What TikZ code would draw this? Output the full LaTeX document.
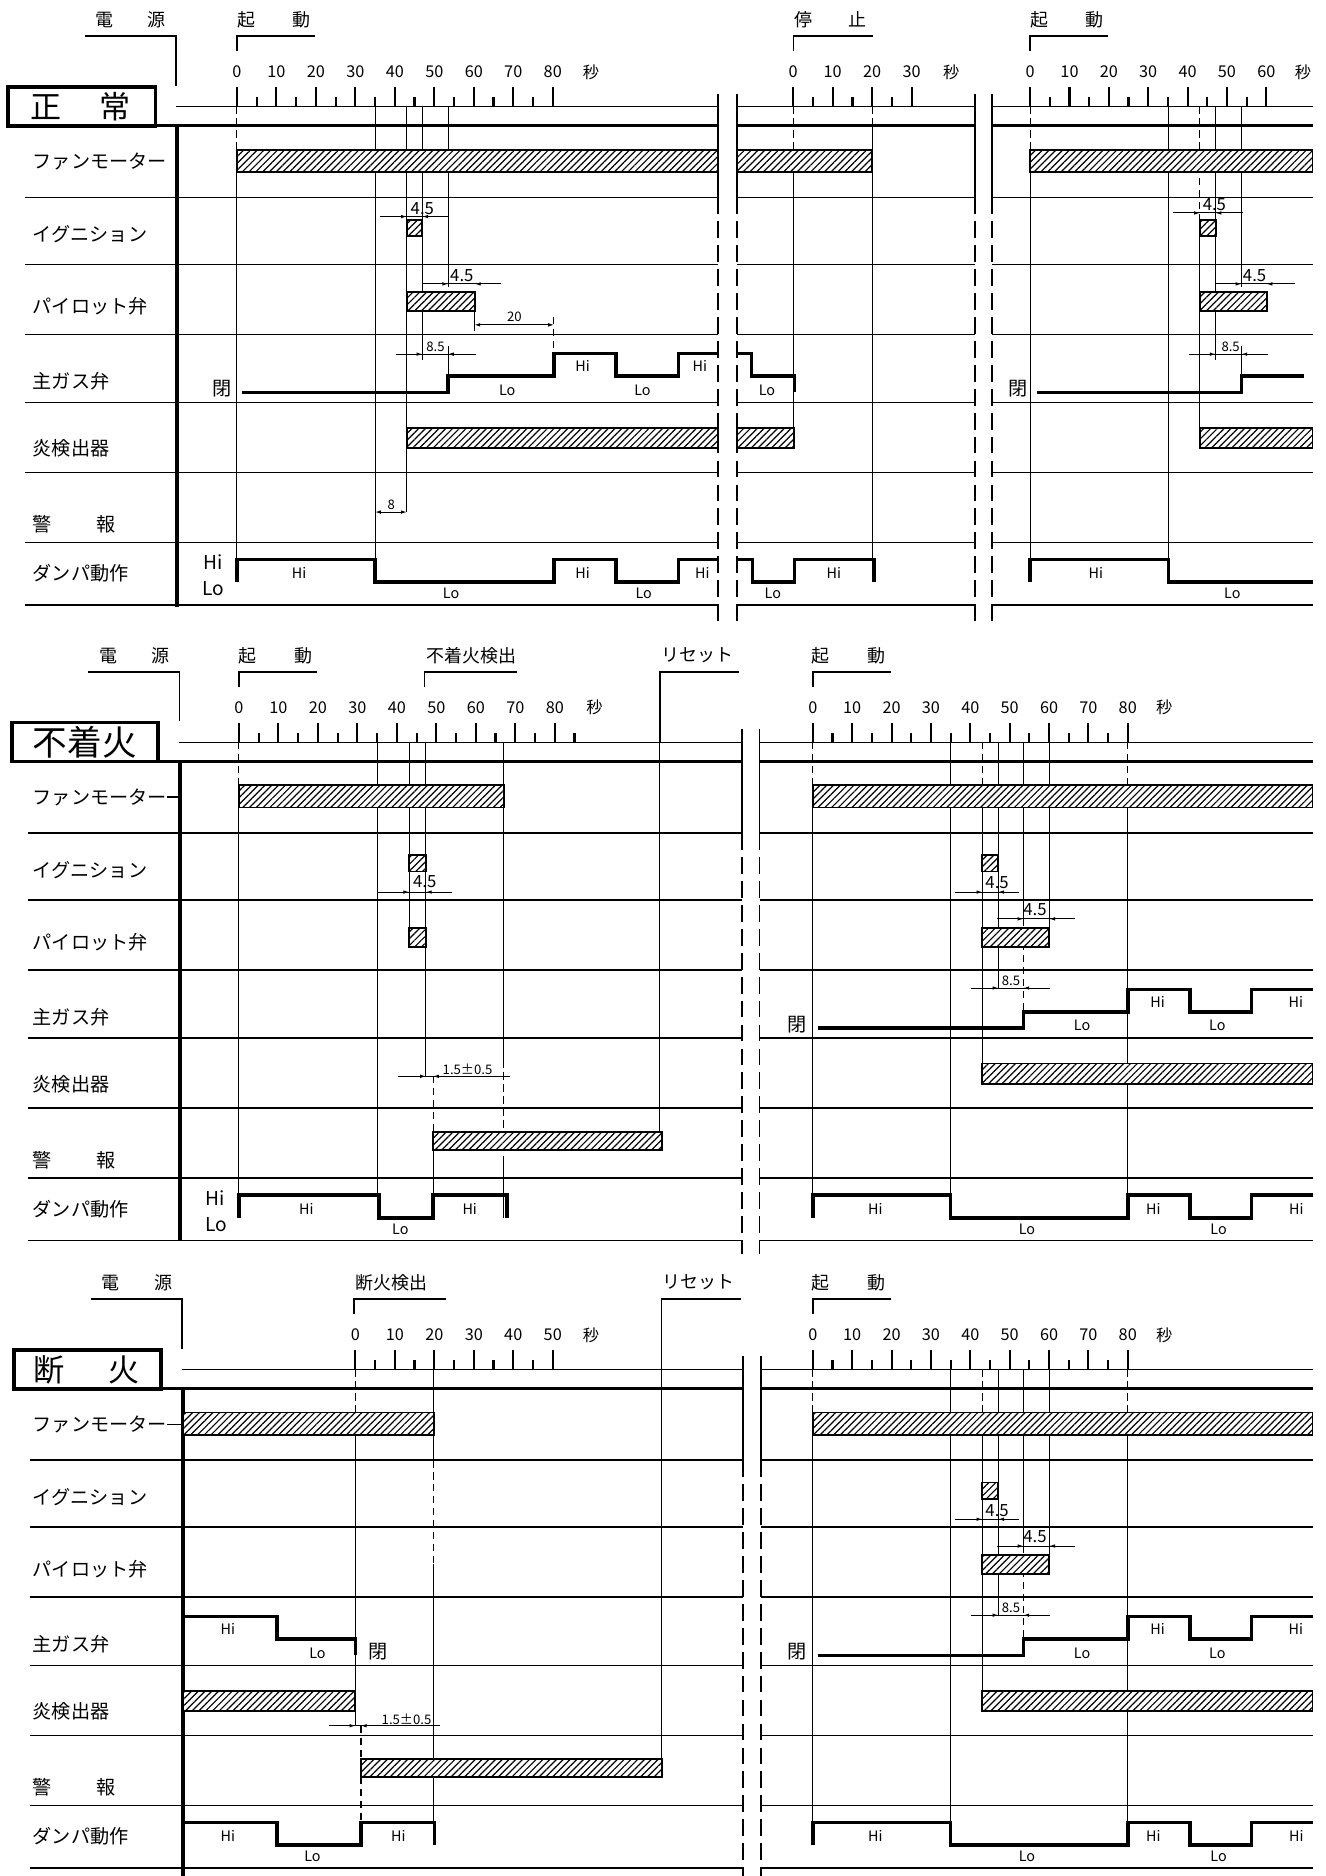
\documentclass[tikz,border=0pt]{standalone}
\usepackage{fontspec}
\setmainfont{Noto Sans CJK JP}
\usepackage{tikz}
\usetikzlibrary{arrows.meta,patterns.meta}
\tikzset{
  framebox/.style={draw, line width=1.6pt},
  heavyline/.style={line width=1.2pt},
  axisthick/.style={line width=1.4pt},
  rowline/.style={line width=0.75pt},
  axisline/.style={line width=0.6pt},
  tickmark/.style={line width=0.9pt},
  refline/.style={line width=0.45pt},
  refdash/.style={line width=0.45pt, dash pattern=on 3pt off 2pt},
  breakline/.style={line width=0.6pt},
  breakdash/.style={line width=0.6pt, dash pattern=on 7pt off 3pt},
  wave/.style={line width=1.5pt, line join=miter},
  hatchbar/.style={draw, line width=0.8pt, fill=white,
    postaction={pattern={Lines[angle=45,distance=2pt,line width=0.5pt]}}},
  dimline/.style={line width=0.4pt},
  dimtip/.style={line width=0.4pt, -{Latex[length=2.4pt,width=1.5pt]}},
  dimboth/.style={line width=0.4pt,
    {Latex[length=2.4pt,width=1.5pt]}-{Latex[length=2.4pt,width=1.5pt]}},
  rowlabel/.style={anchor=west, inner sep=0pt, font=\fontsize{8}{8}\selectfont},
  toplabel/.style={inner sep=0pt, font=\fontsize{7.5}{8}\selectfont},
  scalenum/.style={inner sep=0pt, font=\fontsize{6.8}{7}\selectfont},
  dimnum/.style={inner sep=0pt, font=\fontsize{7}{7}\selectfont},
  smallnum/.style={inner sep=0pt, font=\fontsize{5.5}{6}\selectfont},
  levellabel/.style={inner sep=0pt, font=\fontsize{6}{6}\selectfont},
  axislevel/.style={inner sep=0pt, font=\fontsize{8}{8}\selectfont},
  casetitle/.style={inner sep=0pt, font=\fontsize{13}{13}\selectfont}
}

% time scale: prefix, t0, px per second, last major, last minor, x of the unit
\newcommand{\timeaxis}[6]{%
  \foreach \t in {0,10,...,#4} {
    \draw[tickmark] ({#2+#3*\t},-16) -- ++(0,-16);
    \node[scalenum] (#1-n\t) at ({#2+#3*\t},-44.8) {\t};
  }
  \foreach \t in {5,15,...,#5}
    \draw[tickmark] ({#2+#3*\t},-16) -- ++(0,-8);
  \node[scalenum] (#1-sec) at (#6,-44.8) {秒};
}

% row names, same in every case
\newcommand{\rownames}[1]{%
  \node[rowlabel] (#1-fan) at (27,30) {ファンモーター};
  \node[rowlabel] (#1-ign) at (27,90.5) {イグニション};
  \node[rowlabel] (#1-pilot) at (27,151) {パイロット弁};
  \node[rowlabel] (#1-gas) at (27,213.5) {主ガス弁};
  \node[rowlabel] (#1-flame) at (27,270) {炎検出器};
  \node[rowlabel] (#1-alarm) at (27,333) {警\hspace{2.35em}報};
  \node[rowlabel] (#1-damper) at (27,374) {ダンパ動作};
}

% right half of the 不着火 and 断火 cases (restart)
\newcommand{\restartpart}[1]{%
  \node[toplabel] (#1-start) at (709,-88.5) {起\hspace{2.1em}動};
  \draw[axisline] (679.4,-62.5) -- (679.4,-74.8) -- (744.3,-74.8);
  \timeaxis{#1}{679.4}{3.29}{80}{75}{973}
  % reference lines
  \draw[refdash] (679.4,-16) -- (679.4,20);
  \draw[refline] (679.4,38.5) -- (679.4,362.5);
  \draw[refline] (794.6,-16) -- (794.6,381.5);
  \draw[refdash] (821,-16) -- (821,20);
  \draw[refline] (821,20) -- (821,252.5);
  \draw[refline] (834.4,-16) -- (834.4,189.4);
  \draw[refline] (855.4,-16) -- (855.4,131.6);
  \draw[refdash] (855.4,131.6) -- (855.4,209.5);
  \draw[refline] (877,-16) -- (877,139);
  \draw[refdash] (942.6,-16) -- (942.6,20);
  \draw[refline] (942.6,38.5) -- (942.6,362.5);
  % bars
  \draw[hatchbar] (679.4,20) rectangle (1097,38.5);
  \draw[hatchbar] (821,78.5) rectangle (834.4,92);
  \draw[hatchbar] (821,139) rectangle (877,155);
  \draw[hatchbar] (821,252.5) rectangle (1097,269.5);
  % main gas valve
  \node[axislevel] (#1-shut) at (666.6,220) {閉};
  \draw[wave] (683.3,223) -- (855.4,223) -- (855.4,209.5) -- (942.6,209.5) -- (942.6,190.5)
    -- (994.5,190.5) -- (994.5,209.5) -- (1046,209.5) -- (1046,190.5) -- (1097,190.5);
  \node[levellabel] (#1-g1) at (904.4,221) {Lo};
  \node[levellabel] (#1-g2) at (967.6,201) {Hi};
  \node[levellabel] (#1-g3) at (1017.5,221) {Lo};
  \node[levellabel] (#1-g4) at (1083,201) {Hi};
  % damper
  \draw[wave] (679.4,381.5) -- (679.4,362.5) -- (794.6,362.5) -- (794.6,381.5) -- (942.6,381.5)
    -- (942.6,362.5) -- (994.5,362.5) -- (994.5,381.5) -- (1046,381.5) -- (1046,362.5) -- (1097,362.5);
  \node[levellabel] (#1-d1) at (731.6,374) {Hi};
  \node[levellabel] (#1-d2) at (858.4,391) {Lo};
  \node[levellabel] (#1-d3) at (964,374) {Hi};
  \node[levellabel] (#1-d4) at (1018.5,391) {Lo};
  \node[levellabel] (#1-d5) at (1083.5,374) {Hi};
  % dimensions
  \draw[dimline] (798.4,109.2) -- (851.8,109.2);
  \draw[dimtip] (814,109.2) -- (821,109.2);
  \draw[dimtip] (841.4,109.2) -- (834.4,109.2);
  \node[dimnum] (#1-ig) at (833.4,101.6) {4.5};
  \draw[dimline] (833.4,131.6) -- (898.3,131.6);
  \draw[dimtip] (848.4,131.6) -- (855.4,131.6);
  \draw[dimtip] (884,131.6) -- (877,131.6);
  \node[dimnum] (#1-pl) at (865,124) {4.5};
  \draw[dimline] (811.7,189.4) -- (877.7,189.4);
  \draw[dimtip] (827.4,189.4) -- (834.4,189.4);
  \draw[dimtip] (862.4,189.4) -- (855.4,189.4);
  \node[smallnum] (#1-gs) at (845,183.6) {8.5};
}

\begin{document}
\begin{tikzpicture}[x=0.5pt,y=-0.5pt]
\fill[white] (0,0) rectangle (1108,1568);
\useasboundingbox (0,0) rectangle (1108,1568);

% ================= 正常 =================
\begin{scope}[shift={(0,105)}]
\node[casetitle] (p1-case) at (67.5,-16) {正\hspace{1.2em}常};
\draw[framebox] (7,-32.5) rectangle (130,0);
\node[toplabel] (p1-power) at (109.4,-88.5) {電\hspace{1.9em}源};
\node[toplabel] (p1-start) at (229,-88.5) {起\hspace{2.1em}動};
\node[toplabel] (p1-stop) at (694,-88.5) {停\hspace{2em}止};
\node[toplabel] (p1-restart) at (891.7,-88.5) {起\hspace{2.1em}動};
\draw[axisline] (71,-74.8) -- (147,-74.8) -- (147,-33.5);
\draw[axisline] (198,-62.5) -- (198,-74.8) -- (263,-74.8);
\draw[axisline] (663,-62.5) -- (663,-74.8) -- (729.4,-74.8);
\draw[axisline] (861,-62.5) -- (861,-74.8) -- (925.8,-74.8);
\timeaxis{p1a}{198}{3.3}{80}{75}{494}
\timeaxis{p1b}{663}{3.3}{30}{25}{795}
\timeaxis{p1c}{861}{3.29}{60}{55}{1089}
\foreach \a/\b in {147/600, 616/815, 829/1097} \draw[axisline] (\a,-16) -- (\b,-16);
\foreach \a/\b in {7/600, 616/815, 829/1097} \draw[heavyline] (\a,0) -- (\b,0);
\foreach \r in {60,116,174.5,231.5,290,348.5,400.5}
  \foreach \a/\b in {21/600, 616/815, 829/1097} \draw[rowline] (\a,\r) -- (\b,\r);
\draw[axisthick] (148,0) -- (148,402);
\foreach \x in {600,616,815,829} {
  \draw[breakline] (\x,-26.5) -- (\x,60);
  \draw[breakdash] (\x,60) -- (\x,415);
}
\rownames{p1}
\node[axislevel] (p1-hi) at (178,365) {Hi};
\node[axislevel] (p1-lo) at (178,387) {Lo};
% reference lines
\draw[refdash] (198,-16) -- (198,20);
\draw[refline] (198,38.5) -- (198,362.5);
\draw[refline] (313.5,-16) -- (313.5,381.5);
\draw[refline] (340,-16) -- (340,323);
\draw[refline] (353,-16) -- (353,196);
\draw[refline] (374.5,-16) -- (374.5,135);
\draw[refline] (374.5,184) -- (374.5,209.5);
\draw[refline] (396.5,155) -- (396.5,172);
\draw[refdash] (463,160) -- (463,190.5);
\draw[refdash] (663,-16) -- (663,20);
\draw[refline] (663,38.5) -- (663,269.5);
\draw[refdash] (729,-16) -- (729,0);
\draw[refline] (729,0) -- (729,381.5);
\draw[refdash] (861,-16) -- (861,20);
\draw[refline] (861,38.5) -- (861,362.5);
\draw[refline] (976.5,-16) -- (976.5,381.5);
\draw[refdash] (1002.9,-16) -- (1002.9,78.5);
\draw[refline] (1002.9,78.5) -- (1002.9,252.5);
\draw[refline] (1016,-16) -- (1016,196);
\draw[refline] (1037.6,-16) -- (1037.6,135);
\draw[refline] (1037.6,184) -- (1037.6,209.5);
% fan motor
\draw[hatchbar] (198,20) rectangle (600,38.5);
\draw[hatchbar] (616,20) rectangle (729,38.5);
\draw[hatchbar] (861,20) rectangle (1097,38.5);
% ignition and pilot valve
\draw[hatchbar] (340,78.5) rectangle (353,92);
\draw[hatchbar] (340,139) rectangle (397,155);
\draw[hatchbar] (1002.9,78.5) rectangle (1016,92);
\draw[hatchbar] (1002.9,139) rectangle (1058.6,155);
% flame detector
\draw[hatchbar] (340,252.5) rectangle (600,269.5);
\draw[hatchbar] (616,252.5) rectangle (664,269.5);
\draw[hatchbar] (1002.9,252.5) rectangle (1097,269.5);
% main gas valve
\node[axislevel] (p1-shut) at (186,220) {閉};
\draw[wave] (202,223) -- (374.5,223) -- (374.5,209.5) -- (463,209.5) -- (463,190.5) -- (515,190.5)
  -- (515,209.5) -- (567,209.5) -- (567,190.5) -- (600,190.5);
\draw[wave] (616,190.5) -- (628,190.5) -- (628,209.5) -- (664,209.5) -- (664,223);
\node[axislevel] (p1-shut2) at (851,220) {閉};
\draw[wave] (866.5,223) -- (1037.6,223) -- (1037.6,209.5) -- (1090,209.5);
\node[levellabel] (p1-g1) at (424,221) {Lo};
\node[levellabel] (p1-g2) at (487,201) {Hi};
\node[levellabel] (p1-g3) at (537,221) {Lo};
\node[levellabel] (p1-g4) at (585,201) {Hi};
\node[levellabel] (p1-g5) at (641,221) {Lo};
% damper
\draw[wave] (198,381.5) -- (198,362.5) -- (313.5,362.5) -- (313.5,381.5) -- (463,381.5) -- (463,362.5)
  -- (515,362.5) -- (515,381.5) -- (567,381.5) -- (567,362.5) -- (600,362.5);
\draw[wave] (616,362.5) -- (629,362.5) -- (629,381.5) -- (664,381.5) -- (664,362.5) -- (730.6,362.5)
  -- (730.6,381.5);
\draw[wave] (861,381.5) -- (861,362.5) -- (976.5,362.5) -- (976.5,381.5) -- (1097,381.5);
\node[levellabel] (p1-d1) at (250,374) {Hi};
\node[levellabel] (p1-d2) at (377,391) {Lo};
\node[levellabel] (p1-d3) at (487,374) {Hi};
\node[levellabel] (p1-d4) at (538,391) {Lo};
\node[levellabel] (p1-d5) at (587,374) {Hi};
\node[levellabel] (p1-d6) at (646,391) {Lo};
\node[levellabel] (p1-d7) at (697,374) {Hi};
\node[levellabel] (p1-d8) at (916,374) {Hi};
\node[levellabel] (p1-d9) at (1030,391) {Lo};
% dimensions
\draw[dimline] (317.5,76) -- (375,76);
\draw[dimtip] (333,76) -- (340,76);
\draw[dimtip] (360,76) -- (353,76);
\node[dimnum] (p1-ig) at (353,69) {4.5};
\draw[dimline] (353,132.3) -- (419,132.3);
\draw[dimtip] (367.5,132.3) -- (374.5,132.3);
\draw[dimtip] (404,132.3) -- (397,132.3);
\node[dimnum] (p1-pl) at (386,125.6) {4.5};
\draw[dimboth] (396.5,166.5) -- (463,166.5);
\node[smallnum] (p1-purge) at (430,160) {20};
\draw[dimline] (330.6,191) -- (397.7,191);
\draw[dimtip] (346,191) -- (353,191);
\draw[dimtip] (381.5,191) -- (374.5,191);
\node[smallnum] (p1-gs) at (364,185) {8.5};
\draw[dimboth] (313.5,323) -- (340,323);
\node[smallnum] (p1-al) at (327,317) {8};
\draw[dimline] (980,73) -- (1038.6,73);
\draw[dimtip] (995.9,73) -- (1002.9,73);
\draw[dimtip] (1023,73) -- (1016,73);
\node[dimnum] (p1-ig2) at (1015,66) {4.5};
\draw[dimline] (1016,132.3) -- (1082,132.3);
\draw[dimtip] (1030.6,132.3) -- (1037.6,132.3);
\draw[dimtip] (1065.6,132.3) -- (1058.6,132.3);
\node[dimnum] (p1-pl2) at (1048.6,125.6) {4.5};
\draw[dimline] (994,191) -- (1060,191);
\draw[dimtip] (1009,191) -- (1016,191);
\draw[dimtip] (1044.6,191) -- (1037.6,191);
\node[smallnum] (p1-gs2) at (1028.6,185) {8.5};
\end{scope}

% ================= 不着火 =================
\begin{scope}[shift={(0,636.4)}]
\node[casetitle, font=\fontsize{14.5}{14.5}\selectfont] (p2-case) at (71,-16) {不着火};
\draw[framebox] (9.7,-32.5) rectangle (132.3,0);
\node[toplabel] (p2-power) at (112,-88.5) {電\hspace{1.9em}源};
\node[toplabel] (p2-start) at (230.5,-88.5) {起\hspace{2.1em}動};
\node[toplabel] (p2-fail) at (394,-88.5) {不着火検出};
\node[toplabel] (p2-reset) at (583,-88.5) {リセット};
\draw[axisline] (73.8,-74.8) -- (150,-74.8) -- (150,-33.5);
\draw[axisline] (199.7,-62.5) -- (199.7,-74.8) -- (264.6,-74.8);
\draw[axisline] (355,-62.5) -- (355,-74.8) -- (431.7,-74.8);
\draw[axisline] (617.6,-74.8) -- (551.5,-74.8) -- (551.5,-16);
\draw[refline] (551.5,-16) -- (551.5,324.5);
\timeaxis{p2a}{199.7}{3.3}{80}{85}{497}
\foreach \a/\b in {150/620, 635/1097} \draw[axisline] (\a,-16) -- (\b,-16);
\foreach \a/\b in {9.7/620, 635/1097} \draw[heavyline] (\a,0) -- (\b,0);
\foreach \r in {60,116,174.5,231.5,290,348.5,400.5}
  \foreach \a/\b in {23.7/620, 635/1097} \draw[rowline] (\a,\r) -- (\b,\r);
\draw[axisthick] (150.4,0) -- (150.4,400.5);
\foreach \x in {620,635} {
  \draw[breakline] (\x,-27.4) -- (\x,60);
  \draw[breakdash] (\x,60) -- (\x,411.6);
}
\rownames{p2}
\draw[rowline] (p2-fan.east) -- (150.4,30);
\node[axislevel] (p2-hi) at (180,365) {Hi};
\node[axislevel] (p2-lo) at (181,387) {Lo};
% reference lines
\draw[refdash] (199.7,-16) -- (199.7,20);
\draw[refline] (199.7,38.5) -- (199.7,362.5);
\draw[refline] (315.2,-16) -- (315.2,381.5);
\draw[refline] (342,-16) -- (342,139);
\draw[refline] (356,-16) -- (356,263.2);
\draw[refdash] (362,263.2) -- (362,309.5);
\draw[refline] (362,324.5) -- (362,362.5);
\draw[refline] (421,-16) -- (421,250);
\draw[refdash] (421,250) -- (421,330);
\draw[refline] (421,330) -- (421,381.5);
% bars
\draw[hatchbar] (199.7,20) rectangle (421,38.5);
\draw[hatchbar] (342,78.5) rectangle (356,92);
\draw[hatchbar] (342,139) rectangle (356,155);
\draw[hatchbar] (362,309.5) rectangle (553.6,324.5);
% damper
\draw[wave] (200,381.5) -- (200,362.5) -- (317,362.5) -- (317,381.5) -- (362,381.5) -- (362,362.5)
  -- (423.8,362.5) -- (423.8,381.5);
\node[levellabel] (p2-d1) at (256,374) {Hi};
\node[levellabel] (p2-d2) at (334.6,391) {Lo};
\node[levellabel] (p2-d3) at (392.6,374) {Hi};
% dimensions
\draw[dimline] (316,109.2) -- (377.4,109.2);
\draw[dimtip] (335,109.2) -- (342,109.2);
\draw[dimtip] (363,109.2) -- (356,109.2);
\node[dimnum] (p2-ig) at (355,100.3) {4.5};
\draw[dimline] (333,263.2) -- (426,263.2);
\draw[dimtip] (349,263.2) -- (356,263.2);
\draw[dimtip] (369,263.2) -- (362,263.2);
\node[smallnum] (p2-fd) at (390.8,257.5) {1.5±0.5};
\restartpart{p2r}
\end{scope}

% ================= 断火 =================
\begin{scope}[shift={(0,1160.6)}]
\node[casetitle] (p3-case) at (72.4,-16) {断\hspace{1.43em}火};
\draw[framebox] (12,-32.5) rectangle (134.4,0);
\node[toplabel] (p3-power) at (114.5,-88.5) {電\hspace{1.9em}源};
\node[toplabel] (p3-loss) at (327,-88.5) {断火検出};
\node[toplabel] (p3-reset) at (584,-88.5) {リセット};
\draw[axisline] (76,-74.8) -- (152,-74.8) -- (152,-33.5);
\draw[axisline] (295.7,-62.5) -- (295.7,-74.8) -- (372.6,-74.8);
\draw[axisline] (619,-74.8) -- (552.9,-74.8) -- (552.9,-16);
\draw[refline] (552.9,-16) -- (552.9,324.5);
\timeaxis{p3a}{297}{3.3}{50}{45}{494}
\foreach \a/\b in {152/621, 636/1097} \draw[axisline] (\a,-16) -- (\b,-16);
\foreach \a/\b in {12/621, 636/1097} \draw[heavyline] (\a,0) -- (\b,0);
\foreach \r in {60,116,174.5,231.5,290,348.5,400.5}
  \foreach \a/\b in {25/621, 636/1097} \draw[rowline] (\a,\r) -- (\b,\r);
\draw[axisthick] (153,0) -- (153,407.4);
\foreach \x in {621,636} {
  \draw[breakline] (\x,-27) -- (\x,60);
  \draw[breakdash] (\x,60) -- (\x,407.4);
}
\rownames{p3}
\draw[rowline] (p3-fan.east) -- (153,30);
% reference lines
\draw[refdash] (297,-16) -- (297,17);
\draw[refline] (297,17) -- (297,281.8);
\draw[refdash] (301.7,281.8) -- (301.7,309.5);
\draw[refdash] (301.7,324.5) -- (301.7,362.5);
\draw[refline] (362.5,-16) -- (362.5,60);
\draw[refdash] (362.5,60) -- (362.5,147);
\draw[refline] (362.5,147) -- (362.5,381.5);
% bars
\draw[hatchbar] (153,20) rectangle (362.5,38.5);
\draw[hatchbar] (153,252.5) rectangle (297,269.5);
\draw[hatchbar] (301.7,309.5) rectangle (553.6,324.5);
% main gas valve
\draw[wave] (153,190.5) -- (231.7,190.5) -- (231.7,209.5) -- (297,209.5) -- (297,223);
\node[levellabel] (p3-g1) at (190.4,201) {Hi};
\node[levellabel] (p3-g2) at (265.3,221) {Lo};
\node[axislevel] (p3-shut) at (316,220) {閉};
% damper
\draw[wave] (153,362.5) -- (231.7,362.5) -- (231.7,381.5) -- (301.7,381.5) -- (301.7,362.5)
  -- (363.3,362.5) -- (363.3,381.5);
\node[levellabel] (p3-d1) at (190.4,374) {Hi};
\node[levellabel] (p3-d2) at (261.2,391) {Lo};
\node[levellabel] (p3-d3) at (333,374) {Hi};
% dimension
\draw[dimline] (274.6,281.8) -- (367.8,281.8);
\draw[dimtip] (290,281.8) -- (297,281.8);
\draw[dimtip] (308.7,281.8) -- (301.7,281.8);
\node[smallnum] (p3-fd) at (339.8,276.5) {1.5±0.5};
\restartpart{p3r}
\end{scope}
\end{tikzpicture}
\end{document}
